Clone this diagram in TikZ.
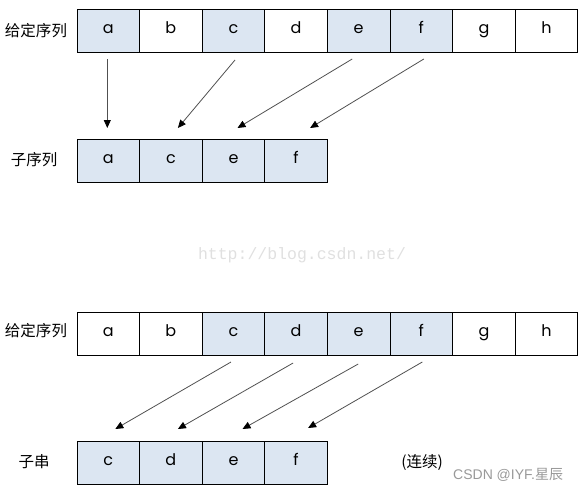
\documentclass[tikz,border=0pt]{standalone}
\usepackage{fontspec}
\setmainfont{Poppins}
\newfontfamily\cjk{Noto Sans CJK SC}
\newfontfamily\wmmono{Liberation Mono}
\newfontfamily\wmsans{Liberation Sans}
\usetikzlibrary{arrows.meta}
\definecolor{cellblue}{HTML}{DCE6F2}
\definecolor{arrgray}{HTML}{505050}
\tikzset{
  cell/.style={draw=black, line width=0.9pt, minimum width=62.6pt, minimum height=43pt,
    inner sep=0pt, outer sep=0pt, anchor=north west, font=\fontsize{16}{16}\selectfont,
    text height=1ex, text depth=0pt},
  hl/.style={cell, fill=cellblue},
  lbl/.style={font=\cjk\fontsize{15.5}{15.5}\selectfont, inner sep=0pt},
  arr/.style={draw=arrgray, line width=0.8pt, -{Triangle[length=8pt,width=7pt,fill=black,color=black]}},
}
\begin{document}
\begin{tikzpicture}[x=1pt,y=-1pt]
\useasboundingbox (0,0) rectangle (585,493);
% top given sequence
\node[hl]   (t1) at (77,9) {a};
\node[cell] (t2) at (t1.north east) {b};
\node[hl]   (t3) at (t2.north east) {c};
\node[cell] (t4) at (t3.north east) {d};
\node[hl]   (t5) at (t4.north east) {e};
\node[hl]   (t6) at (t5.north east) {f};
\node[cell] (t7) at (t6.north east) {g};
\node[cell] (t8) at (t7.north east) {h};
\node[lbl] (L1) at (36,31) {给定序列};
% subsequence
\node[hl] (s1) at (77,139) {a};
\node[hl] (s2) at (s1.north east) {c};
\node[hl] (s3) at (s2.north east) {e};
\node[hl] (s4) at (s3.north east) {f};
\node[lbl] (L2) at (34,160) {子序列};
\draw[arr] ([xshift=-1pt,yshift=-7pt]t1.south) -- ([xshift=-1pt,yshift=11pt]s1.north);
\draw[arr] ([xshift=1.5pt,yshift=-8pt]t3.south) -- ([xshift=7pt,yshift=11pt]s2.north);
\draw[arr] ([xshift=-6.5pt,yshift=-7pt]t5.south) -- ([xshift=4pt,yshift=11pt]s3.north);
\draw[arr] ([xshift=2.5pt,yshift=-7pt]t6.south) -- ([xshift=14pt,yshift=11pt]s4.north);
% watermark
\node[font=\wmmono\fontsize{16.5}{16.5}\selectfont, text=black!12, inner sep=0pt] (wm) at (302,255) {http://blog.csdn.net/};
% bottom given sequence
\node[cell] (u1) at (77,312) {a};
\node[cell] (u2) at (u1.north east) {b};
\node[hl]   (u3) at (u2.north east) {c};
\node[hl]   (u4) at (u3.north east) {d};
\node[hl]   (u5) at (u4.north east) {e};
\node[hl]   (u6) at (u5.north east) {f};
\node[cell] (u7) at (u6.north east) {g};
\node[cell] (u8) at (u7.north east) {h};
\node[lbl] (L3) at (36,331) {给定序列};
% substring
\node[hl] (v1) at (77,441) {c};
\node[hl] (v2) at (v1.north east) {d};
\node[hl] (v3) at (v2.north east) {e};
\node[hl] (v4) at (v3.north east) {f};
\node[lbl] (L4) at (34,462) {子串};
\node[lbl] (L5) at (422,462) {(连续)};
\draw[arr] ([xshift=-2.5pt,yshift=-7pt]u3.south) -- ([xshift=7pt,yshift=12pt]v1.north);
\draw[arr] ([xshift=-3pt,yshift=-8pt]u4.south) -- ([xshift=7pt,yshift=12pt]v2.north);
\draw[arr] ([xshift=-0.5pt,yshift=-9pt]u5.south) -- ([xshift=9pt,yshift=12pt]v3.north);
\draw[arr] ([xshift=1pt,yshift=-7pt]u6.south) -- ([xshift=12pt,yshift=13pt]v4.north);
\node[font=\wmsans\fontsize{14}{14}\selectfont, text=black!40, inner sep=0pt, anchor=west] (wm2) at (453,475) {CSDN @IYF.{\cjk 星辰}};
\end{tikzpicture}
\end{document}
